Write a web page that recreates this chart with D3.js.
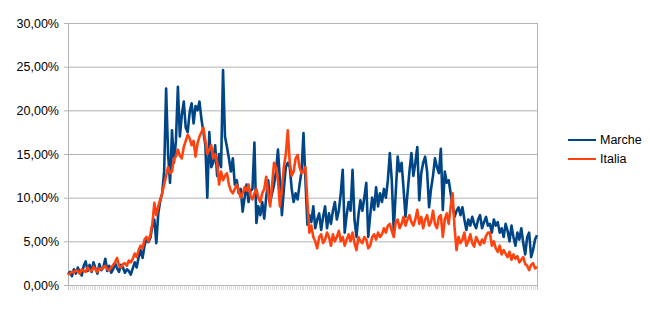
<!DOCTYPE html>
<meta charset="utf-8">
<style>
body { margin: 0; background: #fff; }
text { font-family: "Liberation Sans", Arial, sans-serif; font-size: 12.5px; fill: #000; }
.grid line { stroke: #b3b3b3; stroke-width: 1; }
.serie { fill: none; stroke-width: 2.6; stroke-linejoin: round; }
</style>
<svg width="650" height="309"></svg>
<script src="https://d3js.org/d3.v7.min.js"></script>
<script>

var yTicks = [0, 5, 10, 15, 20, 25, 30];

var marche = [
  1.2, 1.5, 1.0, 1.8, 1.3, 2.0, 1.4, 1.1, 2.2, 2.7, 1.6, 2.3, 1.5, 2.6, 1.9, 1.3, 2.4, 1.7, 2.0, 3.0,
  1.6, 2.2, 1.4, 1.8, 2.5, 1.9, 1.5, 2.3, 2.0, 1.4, 1.8, 1.6, 1.2, 1.9, 2.6, 2.0, 3.2, 4.0, 3.1, 4.5,
  5.3, 4.9, 5.4, 6.8, 7.5, 4.8, 8.2, 9.6, 10.5, 13.0, 22.5, 15.0, 11.7, 17.7, 14.0, 16.5, 22.7, 17.0, 19.5, 21.0,
  18.0, 17.5, 19.8, 20.8, 18.5, 20.5, 20.0, 21.0, 19.0, 17.5, 16.0, 10.0, 17.5, 13.5, 14.0, 16.0, 12.5, 15.0, 13.5, 24.6,
  17.0, 15.8, 14.5, 13.0, 14.5, 11.5, 12.0, 10.5, 11.0, 8.4, 10.0, 11.5, 9.5, 10.8, 11.0, 16.3, 7.1, 9.0, 8.0, 9.5,
  7.6, 10.0, 12.0, 9.5, 10.5, 11.5, 13.0, 15.5, 12.0, 8.0, 11.0, 13.5, 14.0, 13.5, 11.0, 9.5, 10.5, 9.8, 11.5, 13.0,
  17.4, 12.0, 6.9, 8.0, 7.2, 9.0, 6.5, 7.5, 8.2, 6.3, 7.8, 9.0, 6.5, 8.2, 7.0, 8.5, 9.5, 7.5, 8.5, 10.5,
  13.2, 6.0, 8.0, 9.5, 8.5, 13.2, 7.5, 5.5, 8.0, 9.7, 8.5, 10.0, 11.7, 5.5, 8.0, 10.0, 8.6, 11.2, 9.0, 10.5,
  9.5, 11.0, 10.0, 12.0, 15.1, 12.0, 6.3, 10.5, 14.7, 13.0, 14.0, 11.0, 7.8, 10.5, 13.0, 15.1, 12.5, 14.0, 15.8, 9.7,
  12.8, 14.0, 14.7, 13.0, 8.9, 11.0, 12.5, 14.5, 13.5, 12.8, 15.6, 8.6, 13.0, 11.7, 12.0, 10.5, 9.0, 7.8, 8.5, 8.9,
  8.0, 8.9, 7.5, 6.3, 7.5, 6.8, 7.8, 7.0, 6.5, 7.5, 8.0, 6.5, 7.2, 7.8, 6.8, 7.0, 6.0, 7.5, 6.8, 7.2,
  6.0, 6.5, 5.5, 7.0, 6.2, 5.0, 6.8, 5.5, 4.5, 6.0, 5.2, 6.5, 4.8, 3.5, 5.5, 6.0, 3.2, 4.0, 5.2, 5.7
];

var italia = [
  1.2, 1.3, 1.5, 1.4, 1.7, 1.6, 1.3, 1.8, 1.6, 1.5, 2.0, 1.7, 1.6, 2.1, 1.8, 1.5, 1.9, 1.8, 2.0, 2.2,
  1.8, 1.7, 2.0, 2.3, 2.6, 3.1, 2.2, 2.0, 2.4, 2.5, 2.2, 2.8, 2.6, 3.0, 3.6, 3.2, 4.0, 4.5, 4.2, 5.2,
  5.5, 5.0, 5.8, 7.0, 9.4, 8.0, 9.0, 9.8, 10.5, 11.5, 12.5, 13.5, 12.8, 13.0, 14.5, 14.7, 15.5, 14.8, 14.5, 15.8,
  16.5, 17.2, 16.8, 16.0, 16.5, 14.7, 16.2, 17.0, 17.5, 18.0, 16.5, 15.0, 15.5, 16.0, 14.5, 15.0, 14.0, 11.5, 13.0, 12.0,
  12.5, 12.8, 11.5, 10.8, 10.5, 11.0, 11.5, 10.8, 10.0, 10.5, 11.2, 10.8, 11.5, 10.2, 9.8, 10.5, 11.0, 10.0, 9.5, 10.5,
  11.0, 12.4, 10.5, 9.0, 11.5, 14.0, 13.5, 12.0, 9.0, 11.0, 13.5, 15.0, 17.7, 14.0, 12.5, 13.0, 14.5, 14.9, 13.5, 12.8,
  13.0, 13.5, 9.5, 6.0, 6.8, 5.5, 5.0, 4.2, 5.5, 5.8, 4.8, 5.2, 6.0, 5.5, 4.5, 5.8, 5.0, 5.5, 6.2, 5.0,
  5.5, 4.5, 5.2, 5.8, 5.0, 6.0, 4.8, 4.0, 5.5, 5.0, 4.8, 5.5, 5.2, 4.2, 4.5, 5.5, 5.8, 5.2, 6.0, 5.5,
  5.8, 6.5, 6.0, 6.8, 7.0, 6.2, 5.5, 7.2, 7.5, 6.5, 7.0, 7.8, 6.8, 7.5, 8.0, 7.2, 6.8, 7.5, 8.6, 7.0,
  7.8, 6.5, 7.5, 8.0, 6.8, 7.2, 8.5, 7.0, 6.5, 7.8, 8.0, 5.5, 7.5, 8.2, 7.0, 9.0, 10.5, 6.5, 4.0, 5.5,
  4.8, 5.2, 6.0, 4.5, 5.0, 5.8, 4.8, 4.4, 5.5, 5.0, 4.6, 5.2, 4.8, 5.6, 6.0, 6.0, 4.5, 5.0, 4.2, 3.8,
  4.5, 3.5, 4.0, 3.6, 3.2, 3.8, 2.9, 3.5, 3.0, 3.3, 2.6, 2.9, 3.2, 2.4, 2.2, 1.7, 2.3, 2.5, 1.9, 2.1
];

var series = [
  { name: "Marche", values: marche, color: "#004586" },
  { name: "Italia", values: italia, color: "#ff420e" }
];

var svg = d3.select("svg");

var plotLeft = 68, plotRight = 537, plotTop = 23, plotBottom = 285;

var x = d3.scalePoint()
    .domain(d3.range(marche.length))
    .range([plotLeft, plotRight]);

var y = d3.scaleLinear()
    .domain([0, 30])
    .range([plotBottom, plotTop]);

var fmt = function(v) { return v.toFixed(2).replace(".", ",") + "%"; };

// griglia orizzontale
svg.append("g")
    .attr("class", "grid")
  .selectAll("line")
  .data(yTicks)
  .enter().append("line")
    .attr("x1", plotLeft - 4)
    .attr("x2", plotRight)
    .attr("y1", function(d) { return y(d) + 0.5; })
    .attr("y2", function(d) { return y(d) + 0.5; });

// bordi verticali
svg.append("line")
    .attr("x1", plotLeft + 0.5).attr("x2", plotLeft + 0.5)
    .attr("y1", plotTop).attr("y2", plotBottom + 5)
    .attr("stroke", "#b3b3b3");
svg.append("line")
    .attr("x1", plotRight + 0.5).attr("x2", plotRight + 0.5)
    .attr("y1", plotTop).attr("y2", plotBottom + 5)
    .attr("stroke", "#b3b3b3");

// tacche asse x
svg.append("g")
  .selectAll("line")
  .data(x.domain())
  .enter().append("line")
    .attr("x1", function(d) { return Math.round(x(d)) + 0.5; })
    .attr("x2", function(d) { return Math.round(x(d)) + 0.5; })
    .attr("y1", plotBottom)
    .attr("y2", plotBottom + 5)
    .attr("stroke", "#c8c8c8")
    .attr("stroke-width", 0.6);

// etichette asse y
var yAxis = d3.axisLeft(y)
    .tickValues(yTicks)
    .tickFormat(fmt)
    .tickSize(0)
    .tickPadding(9);

var gy = svg.append("g")
    .attr("transform", "translate(" + plotLeft + ",0)")
    .call(yAxis);
gy.select(".domain").remove();
gy.selectAll("text")
    .style("font-family", "'Liberation Sans', Arial, sans-serif")
    .style("font-size", "12.5px")
    .attr("fill", "#000");

var line = d3.line()
    .x(function(d, i) { return x(i); })
    .y(function(d) { return y(d); });

svg.append("g")
  .selectAll("path")
  .data(series)
  .enter().append("path")
    .attr("class", "serie")
    .attr("stroke", function(d) { return d.color; })
    .attr("d", function(d) { return line(d.values); });

// legenda
var legend = svg.append("g")
  .selectAll("g")
  .data(series)
  .enter().append("g")
    .attr("transform", function(d, i) { return "translate(568," + (140 + i * 19) + ")"; });

legend.append("line")
    .attr("x1", 0).attr("x2", 28)
    .attr("stroke", function(d) { return d.color; })
    .attr("stroke-width", 2);

legend.append("text")
    .attr("x", 32)
    .attr("dy", "0.35em")
    .text(function(d) { return d.name; });

</script>
